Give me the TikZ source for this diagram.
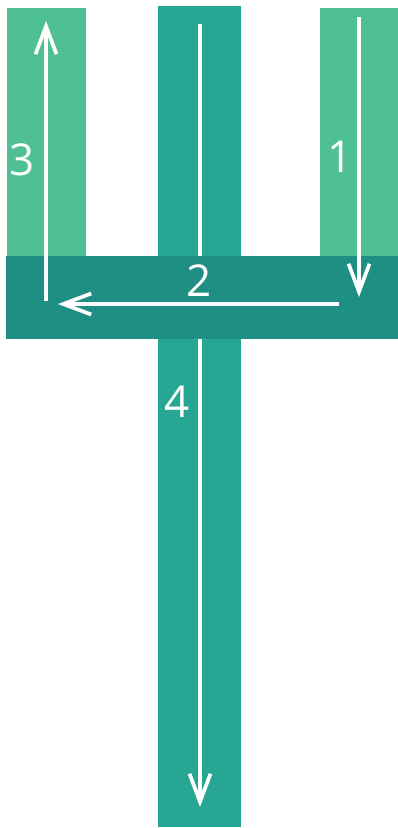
\documentclass[tikz,border=0pt]{standalone}
\usepackage{fontspec}
\setmainfont{Open Sans}
\usepackage{tikz}
\usetikzlibrary{positioning, arrows.meta}

\definecolor{prongGreen}{HTML}{4FBF94}
\definecolor{shaftTeal}{HTML}{27A693}
\definecolor{crossTeal}{HTML}{1F8F84}

\begin{document}
\begin{tikzpicture}[
    x=0.02cm, y=-0.02cm,
    bar/.style={rectangle, inner sep=0pt, outer sep=0pt},
    flow/.style={-{Straight Barb[length=0.56cm, width=0.42cm, line width=2.1pt]}, white, line width=2.1pt},
    plain/.style={white, line width=2.1pt},
    num/.style={text=white, font=\fontsize{25}{28}\selectfont},
]

\useasboundingbox (0,0) rectangle (398,828);

% bars
\node[bar, fill=prongGreen, minimum width=1.58cm, minimum height=4.96cm] (leftbar) at (46.5,132) {};
\node[bar, fill=prongGreen, minimum width=1.56cm, minimum height=4.96cm] (rightbar) at (359,132) {};
\node[bar, fill=shaftTeal, minimum width=1.66cm, minimum height=16.42cm] (shaft) at (199.5,416.5) {};
\node[bar, fill=crossTeal, minimum width=7.84cm, minimum height=1.66cm] (cross) at (202,297.5) {};

% arrow ends
\coordinate (a1s) at (359,17);
\coordinate (a1e) at (359,297);
\coordinate (a2s) at (339,304);
\coordinate (a2e) at (58,304);
\coordinate (a3s) at (46,301);
\coordinate (a3e) at (46,21);
\coordinate (mtop) at (200,24);
\coordinate (a4e) at (200,807);

\draw[flow] (a1s) -- (a1e);
\draw[flow] (a2s) -- (a2e);
\draw[flow] (a3s) -- (a3e);
\draw[plain] (mtop) -- (mtop |- cross.north);
\draw[flow] (mtop |- cross.south) -- (a4e);

% labels
\node[num] (n1) at (340,157) {1};
\node[num] (n2) at (199,281) {2};
\node[num] (n3) at (22,160) {3};
\node[num] (n4) at (177,402) {4};

\end{tikzpicture}
\end{document}
